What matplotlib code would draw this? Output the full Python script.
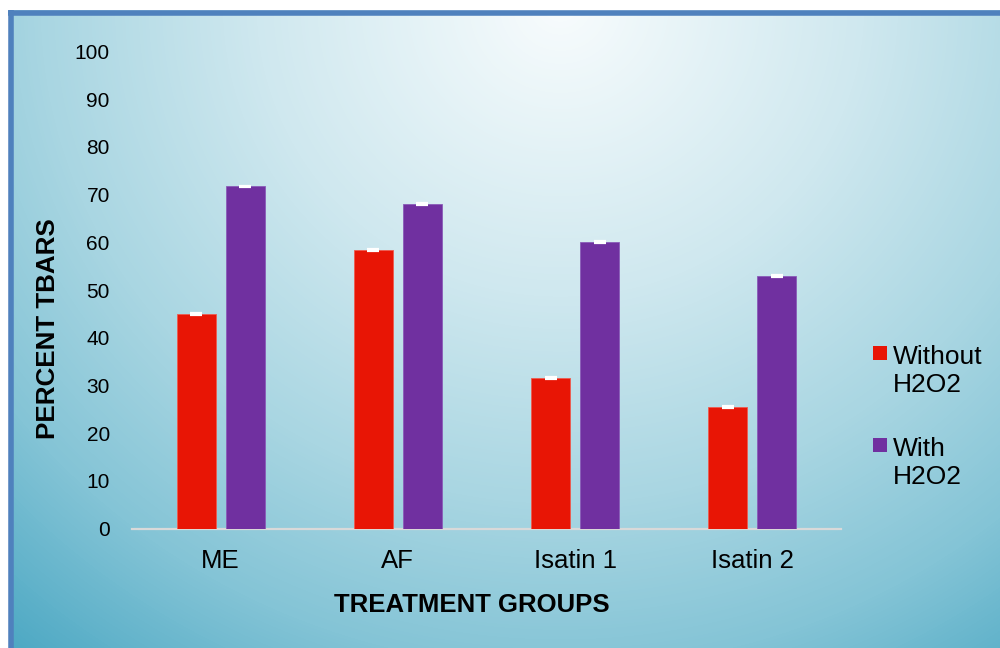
import numpy as np
import matplotlib.pyplot as plt
from matplotlib.colors import LinearSegmentedColormap
from matplotlib.lines import Line2D
from matplotlib.patches import Rectangle

plt.rcParams['font.family'] = ['Liberation Sans', 'DejaVu Sans']

groups = ['ME', 'AF', 'Isatin 1', 'Isatin 2']
series = ['Without\nH2O2', 'With\nH2O2']
without_h2o2 = [45.0, 58.3, 31.6, 25.5]
with_h2o2 = [71.7, 68.0, 60.1, 52.9]
err_without = [0.2, 0.2, 0.2, 0.2]
err_with = [0.2, 0.2, 0.2, 0.2]
y_ticks = [0, 10, 20, 30, 40, 50, 60, 70, 80, 90, 100]

RED = '#e81505'
PURPLE = '#7030a0'
W, H = 1000, 648

fig = plt.figure(figsize=(W / 100, H / 100), dpi=100, facecolor='white')

# gradient panel behind the chart
bg = fig.add_axes([9 / W, 0, 1 - 9 / W, 1 - 10 / H])
bg.axis('off')
yy, xx = np.mgrid[0:H - 10, 0:W - 9]
px, py = xx + 9, yy + 10
dist = np.hypot((px - 560) / 720, (py - 5) / 690)
bg_cmap = LinearSegmentedColormap.from_list(
    'panel', [(0, '#f8fcfd'), (0.35, '#cfe8ef'), (0.6, '#a9d6e2'),
              (0.8, '#84c4d6'), (1.0, '#4ea9c4')])
bg.imshow(dist, cmap=bg_cmap, vmin=0, vmax=1.2, aspect='auto',
          interpolation='bilinear')

# blue frame on top and left
fig.add_artist(Line2D([8 / W, 1], [1 - 12.5 / H, 1 - 12.5 / H], color='#4f81bd',
                      lw=4, solid_capstyle='butt', transform=fig.transFigure))
fig.add_artist(Line2D([11 / W, 11 / W], [0, 1 - 10 / H], color='#4f81bd',
                      lw=4, solid_capstyle='butt', transform=fig.transFigure))

ax = fig.add_axes([132 / W, (H - 528.5) / H, (841 - 132) / W, (528.5 - 51.5) / H])
ax.patch.set_alpha(0)

x = np.arange(len(groups))
width = 0.22
off = 0.138
ax.bar(x - off, without_h2o2, width, color=RED, edgecolor='#ef5a4e', linewidth=0.6, zorder=2)
ax.bar(x + off, with_h2o2, width, color=PURPLE, edgecolor='#8a5bb8', linewidth=0.6, zorder=2)
ax.errorbar(x - off, without_h2o2, yerr=err_without, fmt='none', ecolor='white',
            elinewidth=1.2, capsize=4.3, capthick=1.6, zorder=3)
ax.errorbar(x + off, with_h2o2, yerr=err_with, fmt='none', ecolor='white',
            elinewidth=1.2, capsize=4.3, capthick=1.6, zorder=3)

ax.axhline(0, color='#d9d9d9', lw=1.6, zorder=1, clip_on=False)
ax.set_xlim(-0.5, 3.5)
ax.set_ylim(0, 100)
ax.set_yticks(y_ticks)
ax.set_xticks(x, groups)
for s in ax.spines.values():
    s.set_visible(False)
ax.tick_params(axis='y', length=0, labelsize=15, pad=16)
ax.tick_params(axis='x', length=0, labelsize=18.5, pad=15)

fig.text(472 / W, 1 - 605 / H, 'TREATMENT GROUPS', fontsize=18.5, fontweight='bold',
         ha='center', va='center')
fig.text(48 / W, 1 - 329 / H, 'PERCENT TBARS', fontsize=18.7, fontweight='bold',
         rotation=90, ha='center', va='center')

# legend on the right
for label, color, top in [(series[0], RED, 346), (series[1], PURPLE, 438)]:
    fig.add_artist(Rectangle((873 / W, 1 - (top + 14) / H), 14 / W, 14 / H,
                             facecolor=color, edgecolor='none', transform=fig.transFigure))
    fig.text(893 / W, 1 - (top - 1) / H, label, fontsize=19, ha='left', va='top',
             linespacing=1.22)

fig.savefig('out.png', dpi=100, facecolor='white')
